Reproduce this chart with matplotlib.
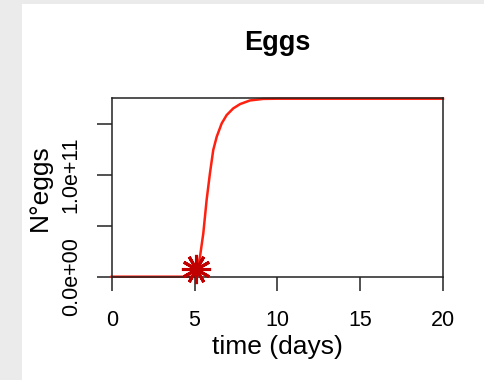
import numpy as np
import matplotlib.pyplot as plt
import matplotlib.patches as patches
from matplotlib.ticker import FixedLocator, FixedFormatter

# values
time_days = [0, 2, 4, 5.0, 5.15, 5.33, 5.53, 5.73, 5.93, 6.13, 6.34, 6.64,
             6.94, 7.34, 7.75, 8.35, 9.15, 10, 12, 15, 20]
eggs = [0, 0, 0, 0, 6.0e9, 1.97e10, 4.27e10, 7.55e10, 1.017e11, 1.247e11,
        1.378e11, 1.509e11, 1.591e11, 1.657e11, 1.699e11, 1.735e11, 1.750e11,
        1.752e11, 1.752e11, 1.752e11, 1.752e11]
event_t = [5.07]
event_eggs = [7.6e9]

y_ticks = [0, 5e10, 1e11, 1.5e11]
y_ticklabels = ['0.0e+00', '', '1.0e+11', '']
x_ticks = [0, 5, 10, 15, 20]

plt.rcParams['font.family'] = ['Liberation Sans', 'DejaVu Sans']

W, H = 485, 380
fig = plt.figure(figsize=(W / 100, H / 100), dpi=100)
fig.patch.set_facecolor('#ebebeb')
# white panel
fig.add_artist(patches.Rectangle((22 / W, 0), 1 - 22 / W, 1 - 4 / H,
                                 transform=fig.transFigure, facecolor='white',
                                 edgecolor='none', zorder=0))

left, right, top, bottom = 111.7, 443, 98.3, 276.7
ax = fig.add_axes([left / W, 1 - bottom / H, (right - left) / W, (bottom - top) / H])
ax.set_facecolor('white')

ax.plot(time_days, eggs, color='#ff2010', lw=1.8, clip_on=False, zorder=2)
ax.plot(event_t, event_eggs, linestyle='none', marker=(12, 2, 0), markersize=21,
        markeredgewidth=2.2, color='#c00000', clip_on=False, zorder=4)

ax.set_xlim(0, 20)
ax.set_ylim(0, 1.756e11)

for s in ax.spines.values():
    s.set_linewidth(1.1)
    s.set_color('#222222')

ax.xaxis.set_major_locator(FixedLocator(x_ticks))
ax.yaxis.set_major_locator(FixedLocator(y_ticks))
ax.yaxis.set_major_formatter(FixedFormatter(y_ticklabels))
ax.tick_params(axis='x', direction='out', length=10, width=1.1, pad=14,
               labelsize=15.5, color='#222222')
ax.tick_params(axis='y', direction='out', length=10.5, width=1.1, pad=11,
               labelsize=15.5, color='#222222')
for lbl in ax.get_yticklabels():
    lbl.set_rotation(90)
    lbl.set_va('center')

ax.set_xlabel('time (days)', fontsize=19)
ax.xaxis.set_label_coords(0.5, -0.325)
ax.set_ylabel('N°eggs', fontsize=19)
ax.yaxis.set_label_coords(-0.18, 0.5)

ax.text(0.5, 1 + (top - 43) / (bottom - top), 'Eggs', transform=ax.transAxes,
        ha='center', va='center', fontsize=19.5, fontweight='bold')

plt.savefig('out.png', dpi=100)
